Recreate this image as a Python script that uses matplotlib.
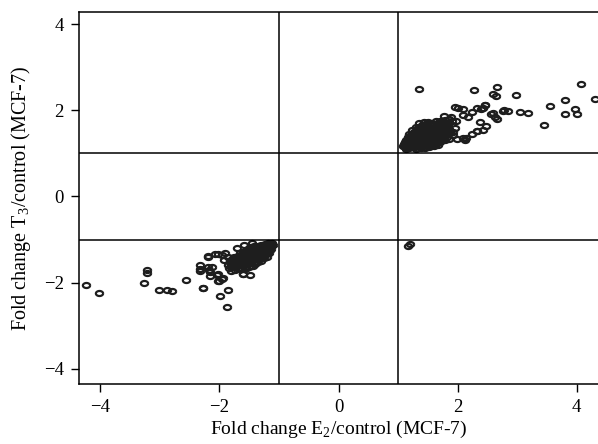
import numpy as np
import matplotlib
matplotlib.use('Agg')
import matplotlib.pyplot as plt
from matplotlib.path import Path

plt.rcParams['font.family'] = ['Liberation Serif', 'DejaVu Serif']
plt.rcParams['mathtext.fontset'] = 'custom'
plt.rcParams['mathtext.rm'] = 'Liberation Serif'

# upper right quadrant: up in both
up_x = [1.36, 2.28, 2.66, 2.59, 2.65, 2.98, 4.07, 4.31, 3.80, 3.55, 3.97, 3.80, 4.01, 3.46,
        3.05, 3.19, 2.78, 2.85, 2.60, 2.67, 2.46, 2.39, 2.32, 2.00, 2.38, 2.48, 2.32, 2.43,
        2.14, 2.24, 2.18, 2.09, 1.13, 1.96, 2.10, 2.42, 2.46, 2.57, 2.63, 2.77, 1.99, 2.10,
        2.13, 2.24, 2.32,
        # dense core
        1.12, 1.18, 1.25, 1.31, 1.38, 1.45, 1.52, 1.60, 1.68,
        1.10, 1.16, 1.22, 1.29, 1.35, 1.42, 1.49, 1.56, 1.63, 1.71, 1.79, 1.86,
        1.14, 1.20, 1.27, 1.33, 1.40, 1.47, 1.54, 1.61, 1.68, 1.75, 1.83,
        1.17, 1.23, 1.30, 1.37, 1.44, 1.51, 1.58, 1.65, 1.72, 1.80, 1.88,
        1.19, 1.26, 1.33, 1.40, 1.47, 1.54, 1.62, 1.69, 1.77, 1.85,
        1.24, 1.31, 1.38, 1.45, 1.52, 1.59, 1.67, 1.74, 1.82,
        1.30, 1.37, 1.44, 1.51, 1.58, 1.66, 1.73, 1.81, 1.90,
        1.35, 1.43, 1.50, 1.57, 1.64, 1.71, 1.79, 1.86,
        1.15, 1.21, 1.28, 1.34, 1.41, 1.48, 1.55, 1.62, 1.70, 1.76,
        1.92, 1.95, 1.89, 1.84, 1.78, 1.97, 1.93,
        # second pass through the core
        1.09, 1.15, 1.21, 1.28, 1.35, 1.41, 1.48, 1.56, 1.64,
        1.12, 1.19, 1.25, 1.32, 1.39, 1.45, 1.52, 1.59, 1.67, 1.74,
        1.16, 1.22, 1.29, 1.36, 1.42, 1.49, 1.57, 1.64, 1.71, 1.78,
        1.21, 1.28, 1.35, 1.42, 1.49, 1.56, 1.63, 1.70, 1.78, 1.84,
        1.27, 1.34, 1.41, 1.48, 1.55, 1.62, 1.69, 1.77,
        1.33, 1.40, 1.47, 1.54, 1.61, 1.68, 1.76, 1.83,
        1.40, 1.47, 1.54, 1.61, 1.68]
up_y = [2.50, 2.47, 2.54, 2.37, 2.34, 2.36, 2.60, 2.26, 2.25, 2.10, 2.04, 1.91, 1.91, 1.67,
        1.95, 1.94, 2.00, 1.98, 1.94, 1.80, 2.13, 2.02, 2.06, 2.06, 1.73, 1.64, 1.53, 1.55,
        1.35, 1.96, 1.84, 1.88, 1.11, 2.08, 2.04, 2.06, 2.12, 1.92, 1.84, 1.98, 1.34, 1.36,
        1.32, 1.46, 1.53,
        1.15, 1.12, 1.14, 1.10, 1.13, 1.12, 1.15, 1.17, 1.20,
        1.22, 1.20, 1.23, 1.19, 1.22, 1.21, 1.24, 1.22, 1.25, 1.27, 1.30, 1.33,
        1.30, 1.28, 1.31, 1.29, 1.32, 1.30, 1.33, 1.31, 1.34, 1.36, 1.39,
        1.38, 1.36, 1.40, 1.37, 1.41, 1.39, 1.42, 1.40, 1.44, 1.46, 1.48,
        1.46, 1.45, 1.48, 1.46, 1.50, 1.48, 1.51, 1.50, 1.53, 1.56,
        1.54, 1.53, 1.57, 1.55, 1.58, 1.57, 1.60, 1.59, 1.63,
        1.62, 1.61, 1.65, 1.63, 1.66, 1.65, 1.68, 1.70, 1.74,
        1.70, 1.72, 1.73, 1.71, 1.76, 1.74, 1.78, 1.80,
        1.26, 1.35, 1.43, 1.51, 1.26, 1.35, 1.44, 1.53, 1.38, 1.52,
        1.42, 1.58, 1.85, 1.68, 1.86, 1.75, 1.50,
        1.18, 1.16, 1.18, 1.15, 1.17, 1.16, 1.19, 1.18, 1.21,
        1.26, 1.25, 1.27, 1.24, 1.27, 1.26, 1.28, 1.27, 1.30, 1.32,
        1.34, 1.33, 1.35, 1.33, 1.36, 1.35, 1.37, 1.36, 1.39, 1.42,
        1.42, 1.41, 1.44, 1.42, 1.45, 1.44, 1.46, 1.45, 1.49, 1.52,
        1.50, 1.49, 1.52, 1.51, 1.54, 1.53, 1.56, 1.59,
        1.58, 1.57, 1.61, 1.59, 1.62, 1.61, 1.64, 1.67,
        1.67, 1.68, 1.69, 1.67, 1.71]

# lower left quadrant: down in both
dn_x = [-4.24, -4.02, -3.21, -3.21, -3.27, -3.01, -2.88, -2.79, -2.56, -2.33, -2.33, -2.33,
        -2.28, -2.17, -2.13, -2.16, -2.04, -2.00, -1.94, -1.99, -1.85, -1.88, -2.19, -2.08,
        -1.96, -1.61, -1.49, -1.57, -2.19, -2.02, -1.85, -2.19, -2.16, -2.02, -1.96, -2.02,
        -1.60, -1.63, -1.40, -2.27,
        # dense core
        -1.12, -1.18, -1.24, -1.30, -1.36, -1.42, -1.48,
        -1.13, -1.19, -1.25, -1.31, -1.37, -1.43, -1.49, -1.55, -1.61,
        -1.15, -1.21, -1.27, -1.33, -1.39, -1.45, -1.51, -1.57, -1.63, -1.69, -1.75,
        -1.16, -1.22, -1.28, -1.34, -1.40, -1.46, -1.52, -1.58, -1.64, -1.70, -1.76, -1.82,
        -1.20, -1.26, -1.32, -1.38, -1.44, -1.50, -1.56, -1.62, -1.68, -1.74, -1.80, -1.86,
        -1.30, -1.36, -1.42, -1.48, -1.54, -1.60, -1.66, -1.72, -1.78, -1.84,
        -1.44, -1.50, -1.56, -1.62, -1.68, -1.74, -1.80,
        -1.10, -1.14, -1.22, -1.27, -1.35, -1.46, -1.58, -1.71, -1.90, -1.92,
        # second pass through the core
        -1.15, -1.21, -1.27, -1.33, -1.39, -1.45, -1.52,
        -1.16, -1.22, -1.28, -1.34, -1.40, -1.46, -1.52, -1.58, -1.65,
        -1.18, -1.24, -1.30, -1.36, -1.42, -1.48, -1.54, -1.60, -1.66, -1.72, -1.79,
        -1.23, -1.29, -1.35, -1.41, -1.47, -1.53, -1.59, -1.65, -1.71, -1.77, -1.83,
        -1.33, -1.39, -1.45, -1.51, -1.57, -1.63, -1.69, -1.75, -1.81]
dn_y = [-2.05, -2.23, -1.70, -1.77, -2.01, -2.17, -2.16, -2.19, -1.94, -1.60, -1.68, -1.74,
        -2.13, -1.70, -1.64, -1.84, -1.82, -1.95, -1.89, -2.30, -2.17, -2.56, -1.40, -1.33,
        -1.36, -1.80, -1.83, -1.68, -1.37, -1.33, -1.41, -1.64, -1.76, -1.80, -1.91, -1.97,
        -1.80, -1.68, -1.57, -2.12,
        -1.08, -1.09, -1.10, -1.12, -1.14, -1.15, -1.18,
        -1.16, -1.17, -1.18, -1.19, -1.21, -1.22, -1.24, -1.26, -1.28,
        -1.24, -1.25, -1.26, -1.28, -1.29, -1.31, -1.32, -1.34, -1.36, -1.38, -1.40,
        -1.32, -1.33, -1.35, -1.36, -1.38, -1.39, -1.41, -1.42, -1.44, -1.46, -1.48, -1.50,
        -1.40, -1.42, -1.43, -1.45, -1.47, -1.48, -1.50, -1.51, -1.53, -1.55, -1.57, -1.58,
        -1.50, -1.52, -1.54, -1.55, -1.57, -1.59, -1.60, -1.62, -1.63, -1.65,
        -1.62, -1.64, -1.66, -1.67, -1.69, -1.70, -1.72,
        -1.12, -1.22, -1.30, -1.40, -1.46, -1.08, -1.12, -1.20, -1.30, -1.48,
        -1.12, -1.13, -1.14, -1.16, -1.17, -1.19, -1.21,
        -1.20, -1.21, -1.22, -1.24, -1.25, -1.26, -1.28, -1.30, -1.32,
        -1.28, -1.29, -1.31, -1.32, -1.33, -1.35, -1.37, -1.38, -1.40, -1.42, -1.44,
        -1.36, -1.37, -1.39, -1.41, -1.42, -1.44, -1.45, -1.47, -1.49, -1.51, -1.53,
        -1.45, -1.46, -1.48, -1.50, -1.51, -1.53, -1.55, -1.57, -1.59]

# stray pair in the lower right quadrant
odd_x = [1.17, 1.20]
odd_y = [-1.14, -1.10]

ticks = [-4, -2, 0, 2, 4]
lim = 4.36

# flat ring marker
t = np.linspace(0, 2 * np.pi, 40)
ring = Path(np.column_stack([np.cos(t), 0.7 * np.sin(t)]))

fig = plt.figure(figsize=(5.98, 4.44), dpi=100)
ax = fig.add_axes([79 / 598, 60 / 444, 1 - 79 / 598, 372 / 444])

for xs, ys in [(up_x, up_y), (dn_x, dn_y), (odd_x, odd_y)]:
    ax.plot(xs, ys, linestyle='none', marker=ring, markersize=5.2,
            markerfacecolor='none', markeredgecolor='#1e1e1e', markeredgewidth=1.6)

for v in [-1, 1]:
    ax.axvline(v, color='black', lw=1.1)
    ax.axhline(v, color='black', lw=1.1)

ax.set_xlim(-lim, lim)
ax.set_ylim(-4.35, 4.28)
ax.set_xticks(ticks)
ax.set_yticks(ticks)
ax.set_xticklabels(['\u2212' + str(-v) if v < 0 else str(v) for v in ticks])
ax.set_yticklabels(['\u2212' + str(-v) if v < 0 else str(v) for v in ticks])
ax.tick_params(direction='out', length=6, width=1, labelsize=13.5, pad=5)
ax.spines['right'].set_visible(False)
for s in ['left', 'top', 'bottom']:
    ax.spines[s].set_linewidth(1.1)

ax.set_xlabel('Fold change E$_2$/control (MCF-7)', fontsize=14, labelpad=2)
ax.set_ylabel('Fold change T$_3$/control (MCF-7)', fontsize=14.5, labelpad=8)

fig.savefig('out.png', dpi=100)
